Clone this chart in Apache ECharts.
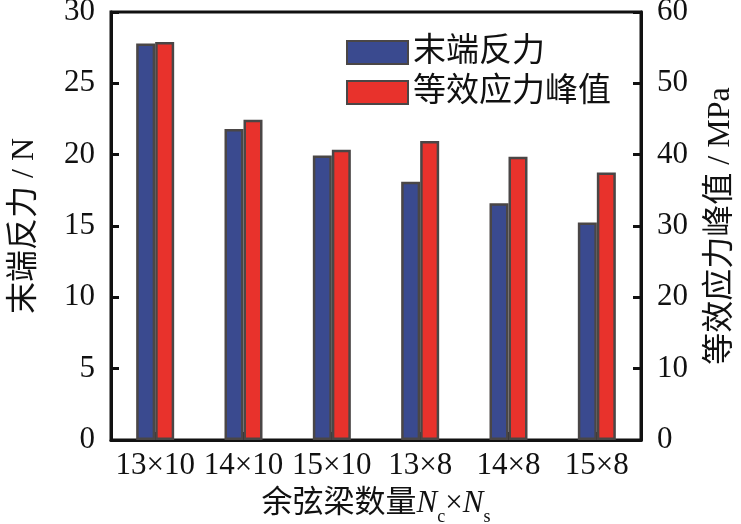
<!DOCTYPE html>
<html>
<head>
<meta charset="utf-8">
<script src="https://cdn.jsdelivr.net/npm/echarts@6/dist/echarts.min.js"></script>
<style>html,body{margin:0;padding:0;background:#fff}#c{width:741px;height:524px}</style>
</head>
<body>
<div id="c"></div>
<script>
const categories = ['13×10', '14×10', '15×10', '13×8', '14×8', '15×8'];
const endForce = [27.8, 21.8, 19.95, 18.1, 16.6, 15.25];
const peakStress = [55.8, 44.9, 40.7, 41.9, 39.7, 37.5];
const leftTicks = [0, 30, 5];
const rightTicks = [0, 60, 10];
const seriesNames = ['末端反力', '等效应力峰值'];

const serif = '"Liberation Serif", "Noto Sans CJK SC", serif';
const chart = echarts.init(document.getElementById('c'), null, {renderer: 'canvas'});
const axisLine = {show: true, lineStyle: {color: '#111', width: 3}};
const axisTick = {show: true, inside: true, length: 8, lineStyle: {color: '#111', width: 3}};
const labelStyle = {color: '#111', fontFamily: serif, fontSize: 31};
chart.setOption({
  animation: false,
  grid: {left: 111, right: 100, top: 12, bottom: 84, containLabel: false, outerBoundsMode: 'none',
         show: true, borderColor: '#111', borderWidth: 3, backgroundColor: 'transparent'},
  legend: {
    left: 341, top: 31, orient: 'vertical', itemWidth: 61, itemHeight: 23, itemGap: 7,
    icon: 'rect', textStyle: {fontFamily: serif, fontSize: 33, color: '#111', padding: [0, 0, 0, 0]},
    data: seriesNames
  },
  xAxis: {
    type: 'category', data: categories,
    axisLine: axisLine,
    axisTick: {show: true, inside: true, alignWithLabel: true, length: 8, lineStyle: {color: '#111', width: 3}},
    axisLabel: Object.assign({margin: 10, interval: 0}, labelStyle),
    name: '{a|余弦梁数量}{i|N}{s|c}{a|×}{i|N}{s|s}',
    nameLocation: 'middle', nameGap: 42,
    nameTextStyle: {
      rich: {
        a: {fontFamily: serif, fontSize: 31, color: '#111', lineHeight: 44},
        i: {fontFamily: serif, fontSize: 31, fontStyle: 'italic', color: '#111', lineHeight: 44},
        s: {fontFamily: serif, fontSize: 18, color: '#111', lineHeight: 18, verticalAlign: 'bottom'}
      }
    }
  },
  yAxis: [{
    type: 'value', min: leftTicks[0], max: leftTicks[1], interval: leftTicks[2],
    axisLine: axisLine, axisTick: axisTick, splitLine: {show: false},
    axisLabel: Object.assign({margin: 16}, labelStyle),
    name: '末端反力 / N', nameLocation: 'middle', nameGap: 70, nameRotate: 90,
    nameTextStyle: {fontFamily: serif, fontSize: 32, color: '#111'}
  }, {
    type: 'value', position: 'right', min: rightTicks[0], max: rightTicks[1], interval: rightTicks[2],
    axisLine: axisLine, axisTick: axisTick, splitLine: {show: false},
    axisLabel: Object.assign({margin: 16}, labelStyle),
    name: '等效应力峰值 / MPa', nameLocation: 'middle', nameGap: 64, nameRotate: 90,
    nameTextStyle: {fontFamily: serif, fontSize: 32, color: '#111'}
  }],
  series: [{
    name: seriesNames[0], type: 'bar', yAxisIndex: 0, data: endForce,
    barWidth: 19, barGap: '0%',
    itemStyle: {color: '#3a4a8f', borderColor: '#4a4646', borderWidth: 2.5}
  }, {
    name: seriesNames[1], type: 'bar', yAxisIndex: 1, data: peakStress,
    barWidth: 19, barGap: '0%',
    itemStyle: {color: '#e8322c', borderColor: '#4a4646', borderWidth: 2.5}
  }]
});
</script>
</body>
</html>
